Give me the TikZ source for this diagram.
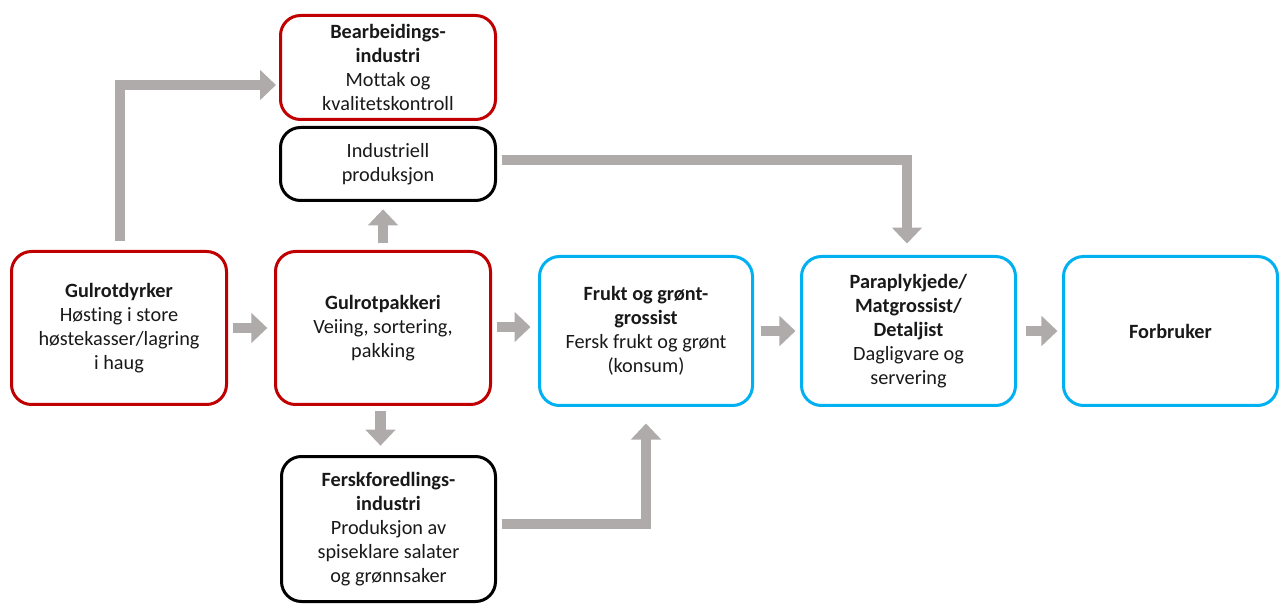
\documentclass[tikz,border=0pt]{standalone}
\usepackage{fontspec}
\setmainfont{Carlito}[Ligatures=NoCommon]
\usetikzlibrary{arrows.meta,calc}
\definecolor{boxred}{HTML}{C00000}
\definecolor{boxblue}{HTML}{00B0F0}
\definecolor{flowgray}{HTML}{AFABAB}
\begin{document}
\begin{tikzpicture}[x=0.75pt,y=-0.75pt,
  stage/.style={draw, rounded corners=15pt, line width=2.25pt, align=center,
    font=\fontsize{15.2}{18}\selectfont, inner sep=0pt, text=black!90},
  dims/.style 2 args={minimum width=#1*0.75pt, minimum height=#2*0.75pt},
  redbox/.style={stage, draw=boxred},
  blackbox/.style={stage, draw=black},
  bluebox/.style={stage, draw=boxblue},
  flow/.style={draw=flowgray, line width=8pt, line join=miter,
    -{Triangle[width=22pt,length=12pt]}}]
\useasboundingbox (0,0) rectangle (1284,605);

% stages of the chain
\node[redbox, dims={215}{153}] (dyrker) at (119,328)
  {\textbf{Gulrotdyrker}\\Høsting i store\\høstekasser/lagring\\i haug};
\node[redbox, dims={215}{153}] (pakkeri) at (383,328)
  {\textbf{Gulrotpakkeri}\\Veiing, sortering,\\pakking};
\node[redbox, dims={215}{104}] (bearb) at (388,67.5)
  {\textbf{Bearbeidings-}\\\textbf{industri}\\Mottak og\\kvalitetskontroll};
\node[blackbox, dims={215}{73}] (indust) at (388,164)
  {Industriell\\produksjon};
\node[blackbox, dims={214}{145}] (fersk) at (388.5,529)
  {\textbf{Ferskforedlings-}\\\textbf{industri}\\Produksjon av\\spiseklare salater\\og grønnsaker};
\node[bluebox, dims={213}{149}] (frukt) at (646,331)
  {\textbf{Frukt og grønt-}\\\textbf{grossist}\\Fersk frukt og grønt\\(konsum)};
\node[bluebox, dims={214}{149}] (parap) at (908.5,331)
  {\textbf{Paraplykjede/}\\\textbf{Matgrossist/}\\\textbf{Detaljist}\\Dagligvare og\\servering};
\node[bluebox, dims={214}{149}] (forbr) at (1170.5,331)
  {\textbf{Forbruker}};

% bend points of the routed flows
\coordinate (r1) at (120,85);
\coordinate (c4) at (380.5,406);
\coordinate (r8) at (907,160);
\coordinate (r9) at (646,524);

% flows
\draw[flow, shorten <=6.4pt, shorten >=2.25pt]
  (dyrker.north -| r1) |- (bearb.west |- r1);
\draw[flow, shorten <=4pt, shorten >=5pt] (dyrker.east) -- (pakkeri.west);
\draw[flow, shorten <=5pt, shorten >=5.5pt]
  (pakkeri.north) -- (indust.south -| pakkeri.north);
\draw[flow, shorten <=4pt, shorten >=7pt] (c4) -- (c4 |- fersk.north);
\draw[flow, shorten <=3.4pt, shorten >=5.6pt]
  ([yshift=0.75pt]pakkeri.east) -- ([yshift=0.75pt]pakkeri.east -| frukt.west);
\draw[flow, shorten <=5pt, shorten >=3.4pt] (frukt.east) -- (parap.west);
\draw[flow, shorten <=6.4pt, shorten >=3.4pt] (parap.east) -- (forbr.west);
\draw[flow, shorten <=3.4pt, shorten >=8.6pt]
  (indust.east |- r8) -| (r8 |- parap.north);
\draw[flow, shorten <=3.4pt, shorten >=12.4pt]
  (fersk.east |- r9) -| (r9 |- frukt.south);
\end{tikzpicture}
\end{document}
